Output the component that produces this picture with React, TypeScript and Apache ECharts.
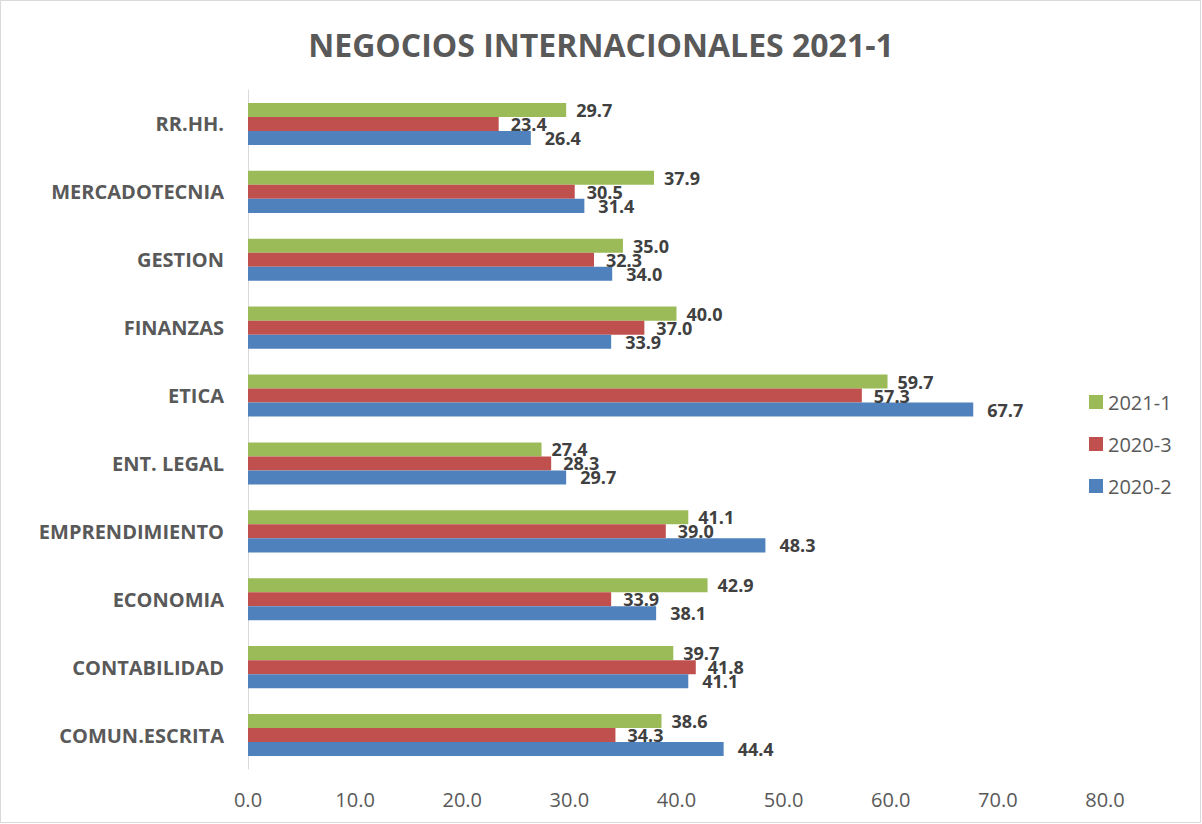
import React, { useEffect, useRef } from "react";
import * as echarts from "echarts";

const categories = [
  "COMUN.ESCRITA",
  "CONTABILIDAD",
  "ECONOMIA",
  "EMPRENDIMIENTO",
  "ENT. LEGAL",
  "ETICA",
  "FINANZAS",
  "GESTION",
  "MERCADOTECNIA",
  "RR.HH.",
];
const s2020_2 = [44.4, 41.1, 38.1, 48.3, 29.7, 67.7, 33.9, 34.0, 31.4, 26.4];
const s2020_3 = [34.3, 41.8, 33.9, 39.0, 28.3, 57.3, 37.0, 32.3, 30.5, 23.4];
const s2021_1 = [38.6, 39.7, 42.9, 41.1, 27.4, 59.7, 40.0, 35.0, 37.9, 29.7];
const xTicks = { min: 0, max: 80, interval: 10 };

const FONT = "'Open Sans', 'Liberation Sans', sans-serif";

export default function App() {
  const ref = useRef<HTMLDivElement>(null);
  useEffect(() => {
    if (!ref.current) return;
    const chart = echarts.init(ref.current, null, { renderer: "svg" });
    const mkLabel = (distance: number) => ({
      show: true,
      position: "right" as const,
      distance,
      fontFamily: FONT,
      fontWeight: "bold" as const,
      fontSize: 18,
      color: "#404040",
      formatter: (p: any) => Number(p.value).toFixed(1),
    });
    const mk = (name: string, data: number[], color: string, distance: number) => ({
      name,
      type: "bar",
      data,
      barGap: "0%",
      barCategoryGap: "38%",
      itemStyle: { color },
      label: mkLabel(distance),
    });
    chart.setOption({
      animation: false,
      backgroundColor: "#ffffff",
      title: {
        text: "NEGOCIOS INTERNACIONALES 2021-1",
        left: "center",
        top: 23,
        textStyle: {
          fontFamily: FONT,
          fontWeight: "bold",
          fontSize: 32,
          color: "#595959",
        },
      },
      legend: {
        orient: "vertical",
        left: 1089,
        top: 392,
        padding: 0,
        itemWidth: 14,
        itemHeight: 14,
        itemGap: 22,
        icon: "rect",
        data: ["2021-1", "2020-3", "2020-2"],
        textStyle: { fontFamily: FONT, fontSize: 20, color: "#595959" },
      },
      grid: { left: 248, right: 97, top: 90, bottom: 55, containLabel: false },
      xAxis: {
        type: "value",
        min: xTicks.min,
        max: xTicks.max,
        interval: xTicks.interval,
        axisLine: { show: false },
        axisTick: { show: false },
        splitLine: { show: false },
        axisLabel: {
          margin: 20,
          fontFamily: FONT,
          fontSize: 20,
          color: "#595959",
          formatter: (v: number) => v.toFixed(1),
        },
      },
      yAxis: {
        type: "category",
        data: categories,
        axisLine: { show: true, lineStyle: { color: "#d9d9d9", width: 1 } },
        axisTick: { show: false },
        axisLabel: {
          margin: 24,
          fontFamily: FONT,
          fontWeight: "bold",
          fontSize: 20,
          color: "#595959",
        },
      },
      graphic: [
        {
          type: "rect",
          shape: { x: 0.5, y: 0.5, width: 1200, height: 822 },
          style: { fill: "none", stroke: "#d9d9d9", lineWidth: 1 },
          silent: true,
        },
      ],
      series: [
        mk("2021-1", s2021_1, "#9BBB59", 10),
        mk("2020-3", s2020_3, "#C0504D", 12),
        mk("2020-2", s2020_2, "#4F81BD", 14),
      ],
    });
    return () => chart.dispose();
  }, []);
  return (
    <div
      ref={ref}
      style={{ position: "fixed", left: 0, top: 0, width: 1202, height: 824 }}
    />
  );
}
